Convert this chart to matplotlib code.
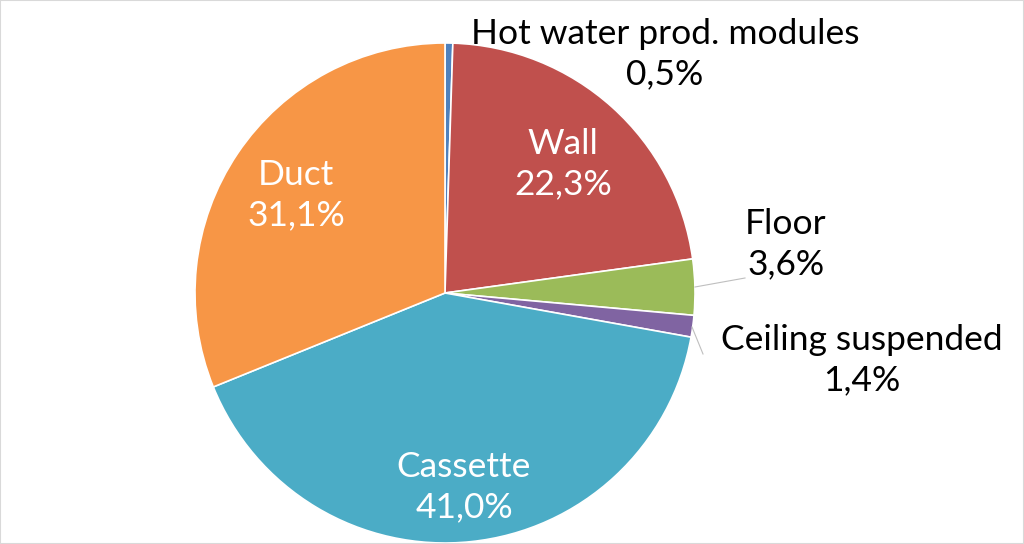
import matplotlib.pyplot as plt
from matplotlib.patches import Rectangle

categories = ["Hot water prod. modules", "Wall", "Floor", "Ceiling suspended",
              "Cassette", "Duct"]
shares = [0.5, 22.3, 3.6, 1.4, 41.0, 31.1]
pct_labels = ["0,5%", "22,3%", "3,6%", "1,4%", "41,0%", "31,1%"]

colors = ["#4F81BD", "#C0504D", "#9BBB59", "#8064A2", "#4BACC6", "#F79646"]
text_colors = ["black", "white", "black", "black", "white", "white"]
# label block centres, in pixels of the 1024x544 picture
label_px = [(665, 54), (563, 164), (786, 244), (862, 360), (464, 487), (296, 195)]

W, H = 1024, 544
cx, cy, R = 445, 293, 250

fig = plt.figure(figsize=(W / 100, H / 100), dpi=100)
ax = fig.add_axes([0, 0, 1, 1])

ax.pie(shares, colors=colors, startangle=90, counterclock=False, radius=1,
       wedgeprops=dict(edgecolor="white", linewidth=1.2))

# pie() sets its own limits, so fix the frame afterwards
ax.set_xlim(-cx / R, (W - cx) / R)
ax.set_ylim(-(H - cy) / R, cy / R)
ax.set_aspect("equal")
ax.axis("off")

def to_data(px, py):
    return (px - cx) / R, (cy - py) / R

for name, pct, (px, py), tc in zip(categories, pct_labels, label_px, text_colors):
    x, y = to_data(px, py)
    ax.text(x, y, f"{name}\n{pct}", ha="center", va="center", color=tc,
            fontsize=25.5, family=["Lato", "DejaVu Sans"], linespacing=1.3)

# leader lines for the small outer slices
for (x0, y0), (x1, y1) in [((695, 287), (745, 278)), ((692, 327), (703, 354))]:
    a, b = to_data(x0, y0)
    c, d = to_data(x1, y1)
    ax.plot([a, c], [b, d], color="#BFBFBF", lw=0.8)

fig.patches.append(Rectangle((0, 0), 1, 1, transform=fig.transFigure, fill=False,
                             edgecolor="#D9D9D9", lw=1.5))

fig.savefig("out.png", dpi=100)
